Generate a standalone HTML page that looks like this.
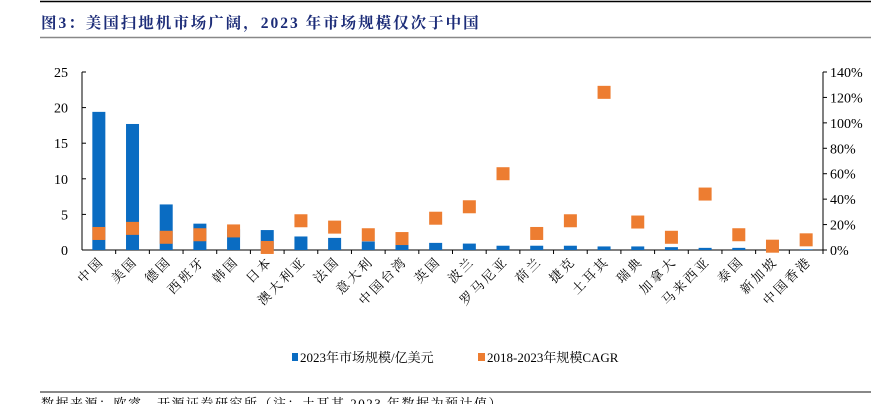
<!DOCTYPE html>
<html><head><meta charset="utf-8"><style>
body{margin:0;background:#fff;width:871px;height:404px;overflow:hidden;font-family:"Liberation Serif","Noto Serif CJK SC",serif;}
</style></head><body>
<svg id="chart" width="871" height="404" xmlns="http://www.w3.org/2000/svg">
<line x1="40" y1="1.5" x2="871" y2="1.5" stroke="#000" stroke-width="1.5"/>
<text x="41" y="28" font-size="15.5" font-weight="bold" letter-spacing="2" fill="#1c2c78" font-family="Liberation Serif,Noto Serif CJK SC,serif">图3：美国扫地机市场广阔，2023 年市场规模仅次于中国</text>
<line x1="40" y1="37.5" x2="871" y2="37.5" stroke="#888" stroke-width="1.5"/>
<g id="plot"></g>
<g>
<rect x="292" y="353" width="6" height="8" fill="#0a6cc2"/>
<text x="300" y="362" font-size="13" fill="#000">2023年市场规模/亿美元</text>
<rect x="478" y="353" width="7" height="8" fill="#ed7d31"/>
<text x="487" y="362" font-size="13" fill="#000">2018-2023年规模CAGR</text>
</g>
<line x1="40" y1="392" x2="871" y2="392" stroke="#888" stroke-width="2"/>
<text x="41" y="408" font-size="13" letter-spacing="1.5" fill="#000">数据来源：欧睿、开源证券研究所（注：土耳其 2023 年数据为预计值）</text>
</svg>
<script>
const categories=["中国","美国","德国","西班牙","韩国","日本","澳大利亚","法国","意大利","中国台湾","英国","波兰","罗马尼亚","荷兰","捷克","土耳其","瑞典","加拿大","马来西亚","泰国","新加坡","中国香港"];
const marketSize=[19.4,17.7,6.4,3.7,2.9,2.8,1.9,1.7,1.2,1.1,1.0,0.9,0.6,0.6,0.6,0.5,0.5,0.4,0.3,0.3,0.1,0.1];
const cagr=[13,17,10,12,15,2,23,18,12,9,25,34,60,13,23,124,22,10,44,12,3,8];
const leftTicks=[0,5,10,15,20,25];
const rightTicks=[0,20,40,60,80,100,120,140];
const NS="http://www.w3.org/2000/svg";
const g=document.getElementById('plot');
const X0=82,X1=823,Y0=250,Y1=72;
const bw=(X1-X0)/categories.length;
const yL=v=>Y0-(v/25)*(Y0-Y1);
const yR=v=>Y0-(v/140)*(Y0-Y1);
const xC=i=>X0+bw*(i+0.5);
function mk(t,a){const e=document.createElementNS(NS,t);for(const k in a)e.setAttribute(k,a[k]);g.appendChild(e);return e;}
let e;
e=mk('line',{x1:X0,y1:Y1,x2:X0,y2:Y0,stroke:'#000'});


e=mk('line',{x1:X1,y1:Y1,x2:X1,y2:Y0,stroke:'#000'});


e=mk('line',{x1:X0,y1:Y0,x2:X1,y2:Y0,stroke:'#000'});


leftTicks.forEach(v=>{
 e=mk('line',{x1:X0,y1:yL(v),x2:X0+4,y2:yL(v),stroke:'#000'});
 
 
 e=mk('text',{x:X0-14,y:yL(v)+5,'font-size':14,'text-anchor':'end'});e.textContent=v;
 
 
});
rightTicks.forEach(v=>{
 e=mk('line',{x1:X1,y1:yR(v),x2:X1+4,y2:yR(v),stroke:'#000'});
 
 
 e=mk('text',{x:X1+7,y:yR(v)+5,'font-size':14});e.textContent=v+'%';
 
 
});
categories.forEach((c,i)=>{
 e=mk('line',{x1:X0+bw*(i+1),y1:Y0,x2:X0+bw*(i+1),y2:Y0+4,stroke:'#000'});
 
 
 const bx=xC(i),by=yL(marketSize[i]);
 e=mk('rect',{x:bx-6.5,y:by,width:13,height:Y0-by,fill:'#0a6cc2'});
 
 
 const py=yR(cagr[i]);
 e=mk('rect',{x:bx-6.5,y:py-6.5,width:13,height:13,fill:'#ed7d31'});
 
 
 e=mk('text',{x:0,y:0,'font-size':13,'letter-spacing':'2.5','text-anchor':'end',transform:`translate(${bx+6},${Y0+12}) rotate(-45)`});e.textContent=c;
 
 
});
</script>
</body></html>
